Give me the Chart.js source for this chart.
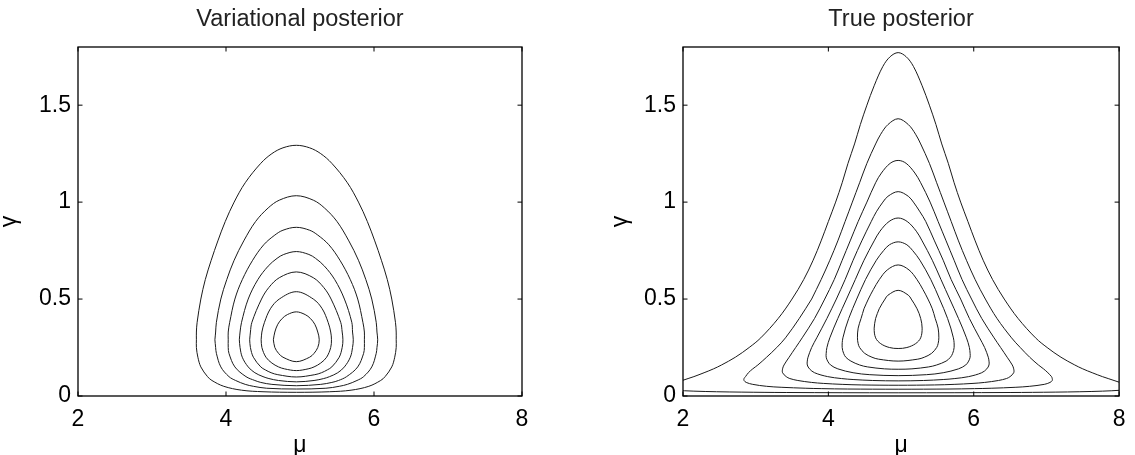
<!DOCTYPE html>
<html>
<head>
<meta charset="utf-8">
<title>Variational vs true posterior</title>
<script src="https://cdn.jsdelivr.net/npm/chart.js@4.4.1/dist/chart.umd.min.js"></script>
<style>
  html, body { margin: 0; padding: 0; background: #fff; }
  #wrap { position: relative; width: 1135px; height: 455px; overflow: hidden; }
  #left { position: absolute; left: 0; top: 0; }
  #right { position: absolute; left: 605px; top: 0; }
</style>
</head>
<body>
<div id="wrap">
  <canvas id="left" width="567" height="455"></canvas>
  <canvas id="right" width="530" height="455"></canvas>
</div>
<script>
// tick labels
const muTicks = [2, 4, 6, 8];
const gammaTicks = [0, 0.5, 1, 1.5];

// Variational posterior: contour lines, [mu, gamma], outer to inner
const vpContour1 = [[3.60,0.29],[3.60,0.33],[3.61,0.38],[3.66,0.50],[3.72,0.60],[3.80,0.70],[3.89,0.80],[3.99,0.90],[4.11,1.00],[4.26,1.10],[4.47,1.20],[4.62,1.25],[4.77,1.28],[4.95,1.293],[5.13,1.28],[5.28,1.25],[5.43,1.20],[5.64,1.10],[5.79,1.00],[5.91,0.90],[6.01,0.80],[6.10,0.70],[6.18,0.60],[6.24,0.50],[6.29,0.38],[6.30,0.33],[6.30,0.29],[6.30,0.25],[6.28,0.20],[6.24,0.15],[6.15,0.10],[6.09,0.08],[5.93,0.05],[5.69,0.03],[5.40,0.022],[4.95,0.019],[4.50,0.022],[4.21,0.03],[3.97,0.05],[3.81,0.08],[3.75,0.10],[3.66,0.15],[3.62,0.20],[3.60,0.25],[3.60,0.29]];
const vpContour2 = [[3.85,0.29],[3.86,0.33],[3.87,0.38],[3.93,0.50],[4.01,0.60],[4.11,0.70],[4.24,0.80],[4.40,0.90],[4.57,0.97],[4.72,1.01],[4.95,1.033],[5.18,1.01],[5.33,0.97],[5.50,0.90],[5.66,0.80],[5.79,0.70],[5.89,0.60],[5.97,0.50],[6.03,0.38],[6.04,0.33],[6.05,0.29],[6.04,0.25],[6.03,0.22],[5.97,0.15],[5.86,0.10],[5.77,0.08],[5.64,0.06],[5.53,0.05],[5.35,0.04],[4.95,0.036],[4.55,0.04],[4.37,0.05],[4.26,0.06],[4.13,0.08],[4.04,0.10],[3.93,0.15],[3.87,0.22],[3.86,0.25],[3.85,0.29]];
const vpContour3 = [[4.03,0.29],[4.03,0.33],[4.05,0.38],[4.12,0.50],[4.22,0.60],[4.36,0.70],[4.51,0.78],[4.66,0.83],[4.77,0.855],[4.95,0.870],[5.13,0.855],[5.24,0.83],[5.39,0.78],[5.54,0.70],[5.68,0.60],[5.78,0.50],[5.85,0.38],[5.87,0.33],[5.87,0.29],[5.87,0.25],[5.86,0.22],[5.78,0.15],[5.63,0.10],[5.52,0.08],[5.43,0.07],[5.28,0.06],[4.95,0.053],[4.62,0.06],[4.47,0.07],[4.39,0.08],[4.27,0.10],[4.12,0.15],[4.04,0.22],[4.03,0.25],[4.03,0.29]];
const vpContour4 = [[4.18,0.29],[4.19,0.33],[4.21,0.38],[4.30,0.50],[4.43,0.60],[4.57,0.67],[4.69,0.71],[4.78,0.73],[4.95,0.745],[5.12,0.73],[5.21,0.71],[5.33,0.67],[5.47,0.60],[5.60,0.50],[5.70,0.38],[5.71,0.33],[5.72,0.29],[5.71,0.25],[5.68,0.20],[5.60,0.15],[5.51,0.12],[5.40,0.10],[5.32,0.09],[5.19,0.08],[4.95,0.073],[4.71,0.08],[4.58,0.09],[4.50,0.10],[4.39,0.12],[4.30,0.15],[4.22,0.20],[4.19,0.25],[4.18,0.29]];
const vpContour5 = [[4.32,0.29],[4.33,0.33],[4.35,0.38],[4.48,0.50],[4.58,0.56],[4.72,0.61],[4.95,0.640],[5.18,0.61],[5.32,0.56],[5.42,0.50],[5.55,0.38],[5.57,0.33],[5.58,0.29],[5.57,0.25],[5.53,0.20],[5.43,0.15],[5.37,0.135],[5.29,0.12],[5.20,0.11],[4.95,0.098],[4.70,0.11],[4.61,0.12],[4.53,0.135],[4.47,0.15],[4.37,0.20],[4.33,0.25],[4.32,0.29]];
const vpContour6 = [[4.475,0.29],[4.485,0.33],[4.52,0.38],[4.60,0.45],[4.72,0.50],[4.95,0.538],[5.18,0.50],[5.30,0.45],[5.38,0.38],[5.415,0.33],[5.425,0.29],[5.415,0.25],[5.36,0.20],[5.28,0.17],[5.19,0.15],[5.11,0.14],[4.95,0.131],[4.79,0.14],[4.71,0.15],[4.62,0.17],[4.54,0.20],[4.485,0.25],[4.475,0.29]];
const vpContour7 = [[4.64,0.29],[4.66,0.33],[4.70,0.37],[4.76,0.40],[4.83,0.42],[4.95,0.434],[5.07,0.42],[5.14,0.40],[5.20,0.37],[5.24,0.33],[5.26,0.29],[5.24,0.25],[5.19,0.22],[5.13,0.20],[4.95,0.177],[4.77,0.20],[4.71,0.22],[4.66,0.25],[4.64,0.29]];

// True posterior: the outer level leaves the box, so its two branches are kept apart
const tpContour1Upper = [[1.83,0.06],[1.91,0.07],[1.99,0.08],[2.07,0.09],[2.15,0.10],[2.29,0.12],[2.42,0.14],[2.53,0.16],[2.72,0.20],[2.91,0.25],[3.07,0.30],[3.31,0.40],[3.50,0.50],[3.66,0.60],[3.79,0.70],[3.90,0.80],[4.00,0.90],[4.10,1.00],[4.19,1.10],[4.27,1.20],[4.36,1.30],[4.44,1.40],[4.53,1.50],[4.63,1.60],[4.75,1.70],[4.85,1.75],[4.96,1.771],[5.07,1.75],[5.17,1.70],[5.29,1.60],[5.39,1.50],[5.48,1.40],[5.56,1.30],[5.65,1.20],[5.73,1.10],[5.82,1.00],[5.92,0.90],[6.02,0.80],[6.13,0.70],[6.26,0.60],[6.42,0.50],[6.61,0.40],[6.85,0.30],[7.01,0.25],[7.20,0.20],[7.39,0.16],[7.50,0.14],[7.63,0.12],[7.77,0.10],[7.85,0.09],[7.93,0.08],[8.01,0.07],[8.09,0.06]];
const tpContour1Lower = [[1.79,0.035],[1.89,0.030],[2.15,0.025],[2.46,0.022],[2.81,0.020],[3.42,0.018],[4.96,0.0165],[6.50,0.018],[7.12,0.020],[7.46,0.022],[7.77,0.025],[8.03,0.030],[8.13,0.035]];
const tpContour2 = [[3.77,0.50],[3.90,0.60],[4.02,0.70],[4.13,0.80],[4.23,0.90],[4.33,1.00],[4.43,1.10],[4.53,1.20],[4.65,1.30],[4.72,1.35],[4.82,1.40],[4.96,1.430],[5.10,1.40],[5.20,1.35],[5.27,1.30],[5.39,1.20],[5.49,1.10],[5.59,1.00],[5.69,0.90],[5.79,0.80],[5.90,0.70],[6.02,0.60],[6.16,0.50],[6.32,0.40],[6.52,0.30],[6.64,0.25],[6.77,0.20],[6.89,0.16],[6.96,0.14],[7.02,0.12],[7.07,0.10],[7.08,0.09],[7.08,0.08],[7.05,0.07],[6.97,0.06],[6.77,0.05],[6.58,0.045],[6.24,0.040],[6.01,0.038],[5.66,0.036],[4.96,0.035],[4.26,0.036],[3.91,0.038],[3.69,0.040],[3.35,0.045],[3.15,0.05],[2.96,0.06],[2.87,0.07],[2.84,0.08],[2.84,0.09],[2.86,0.10],[2.90,0.12],[2.96,0.14],[3.03,0.16],[3.15,0.20],[3.29,0.25],[3.41,0.30],[3.60,0.40],[3.77,0.50]];
const tpContour3 = [[3.95,0.50],[4.08,0.60],[4.19,0.70],[4.30,0.80],[4.41,0.90],[4.53,1.00],[4.65,1.10],[4.73,1.15],[4.85,1.20],[4.96,1.215],[5.07,1.20],[5.19,1.15],[5.27,1.10],[5.40,1.00],[5.51,0.90],[5.62,0.80],[5.73,0.70],[5.84,0.60],[5.97,0.50],[6.11,0.40],[6.28,0.30],[6.37,0.25],[6.46,0.20],[6.53,0.16],[6.55,0.14],[6.55,0.12],[6.50,0.10],[6.45,0.09],[6.34,0.08],[6.15,0.07],[5.99,0.065],[5.73,0.06],[5.46,0.057],[4.96,0.0555],[4.46,0.057],[4.19,0.06],[3.93,0.065],[3.77,0.07],[3.58,0.08],[3.47,0.09],[3.42,0.10],[3.37,0.12],[3.37,0.14],[3.39,0.16],[3.46,0.20],[3.55,0.25],[3.64,0.30],[3.81,0.40],[3.95,0.50]];
const tpContour4 = [[4.11,0.50],[4.23,0.60],[4.34,0.70],[4.46,0.80],[4.59,0.90],[4.66,0.95],[4.75,1.00],[4.82,1.03],[4.96,1.054],[5.10,1.03],[5.17,1.00],[5.26,0.95],[5.34,0.90],[5.46,0.80],[5.58,0.70],[5.69,0.60],[5.82,0.50],[5.94,0.40],[6.08,0.30],[6.15,0.25],[6.20,0.20],[6.21,0.18],[6.21,0.16],[6.18,0.14],[6.11,0.12],[5.93,0.10],[5.74,0.09],[5.58,0.085],[5.31,0.08],[4.96,0.078],[4.61,0.08],[4.34,0.085],[4.18,0.09],[3.99,0.10],[3.81,0.12],[3.74,0.14],[3.71,0.16],[3.71,0.18],[3.72,0.20],[3.77,0.25],[3.84,0.30],[3.98,0.40],[4.11,0.50]];
const tpContour5 = [[4.25,0.50],[4.37,0.60],[4.49,0.70],[4.63,0.80],[4.71,0.85],[4.835,0.90],[4.96,0.918],[5.085,0.90],[5.21,0.85],[5.29,0.80],[5.43,0.70],[5.55,0.60],[5.67,0.50],[5.79,0.40],[5.90,0.30],[5.94,0.25],[5.95,0.22],[5.95,0.20],[5.93,0.18],[5.89,0.16],[5.79,0.14],[5.58,0.12],[5.35,0.11],[4.96,0.105],[4.57,0.11],[4.34,0.12],[4.13,0.14],[4.03,0.16],[3.99,0.18],[3.97,0.20],[3.97,0.22],[3.98,0.25],[4.02,0.30],[4.13,0.40],[4.25,0.50]];
const tpContour6 = [[4.39,0.50],[4.51,0.60],[4.66,0.70],[4.76,0.75],[4.84,0.78],[4.96,0.795],[5.08,0.78],[5.16,0.75],[5.26,0.70],[5.41,0.60],[5.53,0.50],[5.64,0.40],[5.72,0.30],[5.73,0.25],[5.71,0.22],[5.68,0.20],[5.62,0.18],[5.49,0.16],[5.38,0.15],[5.15,0.14],[4.96,0.138],[4.77,0.14],[4.54,0.15],[4.43,0.16],[4.31,0.18],[4.24,0.20],[4.21,0.22],[4.19,0.25],[4.20,0.30],[4.28,0.40],[4.39,0.50]];
const tpContour7 = [[4.49,0.45],[4.55,0.50],[4.62,0.55],[4.70,0.60],[4.81,0.65],[4.96,0.676],[5.11,0.65],[5.22,0.60],[5.30,0.55],[5.37,0.50],[5.43,0.45],[5.47,0.40],[5.51,0.35],[5.52,0.30],[5.51,0.27],[5.49,0.25],[5.42,0.22],[5.32,0.20],[5.23,0.19],[4.96,0.18],[4.69,0.19],[4.60,0.20],[4.50,0.22],[4.43,0.25],[4.41,0.27],[4.40,0.30],[4.41,0.35],[4.45,0.40],[4.49,0.45]];
const tpContour8 = [[4.65,0.40],[4.70,0.45],[4.78,0.50],[4.82,0.52],[4.96,0.545],[5.10,0.52],[5.14,0.50],[5.22,0.45],[5.27,0.40],[5.29,0.35],[5.27,0.30],[5.20,0.27],[5.08,0.25],[4.96,0.245],[4.84,0.25],[4.72,0.27],[4.65,0.30],[4.63,0.35],[4.65,0.40]];

const FONT = '"Liberation Sans", Arial, Helvetica, sans-serif';

function toDataset(points) {
    return {
        data: points.map(([x, y]) => ({ x, y })),
        borderColor: '#1a1a1a',
        borderWidth: 1,
        pointRadius: 0,
        tension: 0.35,
        capBezierPoints: false,
        fill: false
    };
}

// box round the plot with inward tick marks, as in the original figure
const framePlugin = {
    id: 'frame',
    afterDraw(chart) {
        const { ctx, chartArea: a } = chart;
        const sx = chart.scales.x;
        const sy = chart.scales.y;
        const len = 4.5;
        ctx.save();
        ctx.strokeStyle = '#000';
        ctx.lineWidth = 1;
        ctx.beginPath();
        muTicks.forEach(v => {
            const px = sx.getPixelForValue(v);
            ctx.moveTo(px, a.bottom); ctx.lineTo(px, a.bottom - len);
            ctx.moveTo(px, a.top); ctx.lineTo(px, a.top + len);
        });
        gammaTicks.forEach(v => {
            const py = sy.getPixelForValue(v);
            ctx.moveTo(a.left, py); ctx.lineTo(a.left + len, py);
            ctx.moveTo(a.right, py); ctx.lineTo(a.right - len, py);
        });
        ctx.stroke();
        ctx.lineWidth = 1.3;
        ctx.strokeRect(a.left, a.top, a.right - a.left, a.bottom - a.top);
        ctx.restore();
    }
};

function makeChart(canvasId, title, contours, rightPad, yTitlePad) {
    const tickFont = { family: FONT, size: 23 };
    return new Chart(document.getElementById(canvasId), {
        type: 'line',
        data: { datasets: contours.map(toDataset) },
        options: {
            responsive: false,
            animation: false,
            events: [],
            layout: { padding: { left: 0, right: rightPad, top: 0, bottom: 0 } },
            plugins: {
                legend: { display: false },
                tooltip: { enabled: false },
                title: {
                    display: true,
                    text: title,
                    fullSize: false,
                    color: '#222',
                    font: { family: FONT, size: 23.5, weight: 'normal', lineHeight: 1.2 },
                    padding: { top: 5.5, bottom: 13.3 }
                }
            },
            scales: {
                x: {
                    type: 'linear',
                    min: 2,
                    max: 8,
                    afterBuildTicks: s => { s.ticks = muTicks.map(v => ({ value: v })); },
                    afterFit: s => { s.height = 59; },
                    grid: { display: false, drawTicks: false },
                    border: { display: false },
                    ticks: { padding: 9.5, color: '#000', font: tickFont, autoSkip: false, maxRotation: 0, callback: v => String(v) },
                    title: { display: true, text: 'μ', color: '#000', font: { family: FONT, size: 23, lineHeight: 0.85 }, padding: { top: 0, bottom: 0 } }
                },
                y: {
                    type: 'linear',
                    min: 0,
                    max: 1.8,
                    afterBuildTicks: s => { s.ticks = gammaTicks.map(v => ({ value: v })); },
                    afterFit: s => { s.width = 78; },
                    grid: { display: false, drawTicks: false },
                    border: { display: false },
                    ticks: { padding: 7, color: '#000', font: tickFont, autoSkip: false, callback: v => String(v) },
                    title: { display: true, text: 'γ', color: '#000', font: { family: FONT, size: 23, lineHeight: 0.8 }, padding: { top: yTitlePad, bottom: 0 } }
                }
            }
        },
        plugins: [framePlugin]
    });
}

makeChart('left', 'Variational posterior',
    [vpContour1, vpContour2, vpContour3, vpContour4, vpContour5, vpContour6, vpContour7], 45, 0);
makeChart('right', 'True posterior',
    [tpContour1Upper, tpContour1Lower, tpContour2, tpContour3, tpContour4, tpContour5, tpContour6, tpContour7, tpContour8], 8, 6);
</script>
</body>
</html>
